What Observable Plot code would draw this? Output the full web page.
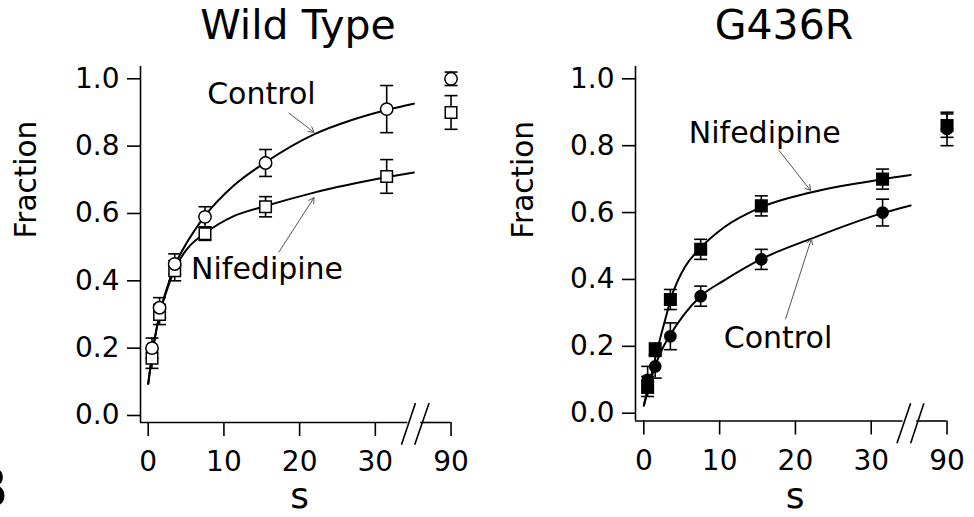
<!DOCTYPE html>
<html><head><meta charset="utf-8">
<script src="https://cdn.jsdelivr.net/npm/d3@7"></script>
<script src="https://cdn.jsdelivr.net/npm/@observablehq/plot@0.6"></script>
<style>
body{margin:0;background:#fff;font-family:"DejaVu Sans",sans-serif;}
#wrap{display:flex;width:974px;height:517px;overflow:hidden;}
.panel{width:487px;flex:none;}
.title{height:50px;line-height:50px;font-size:41px;text-align:center;color:#000;white-space:nowrap;box-sizing:border-box;}
svg{display:block;overflow:visible;}
</style></head><body><div id="wrap"></div>
<script>
// ---- data ----
const times = [0.5, 1.5, 3.5, 7.5, 15.5, 31.5, 90];
const xTickValues = [0, 10, 20, 30, 90];
const yTickValues = [0, 0.2, 0.4, 0.6, 0.8, 1.0];
const panelTitles = ["Wild Type", "G436R"];

const wtControl    = [0.20, 0.32, 0.45, 0.59, 0.75, 0.91, 1.00];
const wtControlErr = [0.03, 0.03, 0.03, 0.03, 0.04, 0.07, 0.02];
const wtNif        = [0.17, 0.30, 0.43, 0.54, 0.62, 0.71, 0.90];
const wtNifErr     = [0.03, 0.03, 0.03, 0.02, 0.03, 0.05, 0.05];

const mutControl    = [0.10, 0.14, 0.23, 0.35, 0.46, 0.60, 0.85];
const mutControlErr = [0.04, 0.035, 0.04, 0.03, 0.03, 0.04, 0.05];
const mutNif        = [0.08, 0.19, 0.34, 0.49, 0.62, 0.70, 0.86];
const mutNifErr     = [0.03, 0.02, 0.03, 0.03, 0.03, 0.03, 0.035];

// fitted curves
const wtCtrlFitT = [0, 0.74, 1.62, 2.51, 3.61, 5.15, 7.5, 11.3, 15.5, 21.9, 26.7, 31.6, 35.1];
const wtCtrlFitF = [0.094, 0.213, 0.312, 0.381, 0.45, 0.515, 0.593, 0.683, 0.752, 0.835, 0.876, 0.908, 0.926];
const wtNifFitT  = [0, 0.74, 1.62, 2.51, 3.61, 5.15, 7.5, 11.3, 15.5, 21.9, 31.6, 35.1];
const wtNifFitF  = [0.094, 0.213, 0.31, 0.375, 0.44, 0.495, 0.541, 0.592, 0.622, 0.662, 0.708, 0.722];
const mutNifFitT = [0, 1, 2, 3, 3.52, 4.5, 5.5, 7.6, 10.6, 15.6, 22, 31.6, 35.2];
const mutNifFitF = [0.023, 0.115, 0.21, 0.295, 0.34, 0.397, 0.44, 0.497, 0.556, 0.617, 0.66, 0.70, 0.712];
const mutCtrlFitT = [0, 0.8, 1.6, 2.5, 3.5, 5.3, 7.6, 10.6, 15.6, 22.1, 31.6, 35.2];
const mutCtrlFitF = [0.023, 0.09, 0.148, 0.195, 0.235, 0.295, 0.352, 0.397, 0.462, 0.522, 0.599, 0.621];

// annotation labels and arrows
const wtLabels  = [{text: "Control", t: 14.95, f: 0.953}, {text: "Nifedipine", t: 15.7, f: 0.434}];
const wtArrows  = [{t1: 18.6, f1: 0.898, t2: 21.9, f2: 0.841}, {t1: 17.25, f1: 0.485, t2: 21.9, f2: 0.647}];
const mutLabels = [{text: "Nifedipine", t: 15.96, f: 0.836}, {text: "Control", t: 17.7, f: 0.224}];
const mutArrows = [{t1: 17.8, f1: 0.787, t2: 22.0, f2: 0.666}, {t1: 18.7, f1: 0.282, t2: 22.1, f2: 0.521}];

// axis break: 90 s is drawn at position 40
const BREAK_VALUE = 90, BREAK_POS = 40;
const xPos = t => t >= BREAK_VALUE ? BREAK_POS + (t - BREAK_VALUE) : t;
const xTickPos = xTickValues.map(xPos);

const rows = (vals, errs, series) => times.map((t, i) => ({t, f: vals[i], err: errs[i], series}));
const fit = (T, F) => T.map((t, i) => ({t, f: F[i]}));

const capSymbol = {draw(ctx, size) { const w = Math.sqrt(size / Math.PI); ctx.moveTo(-w, 0); ctx.lineTo(w, 0); }};

function panel(cfg) {
  const [xmin, xmax] = cfg.xDomain, [ymin, ymax] = cfg.yDomain;
  const all = cfg.ctrl.concat(cfg.nif);
  const X = d => xPos(d.t);
  return Plot.plot({
    width: 487, height: 467,
    marginLeft: cfg.marginLeft, marginRight: cfg.marginRight, marginTop: 16, marginBottom: cfg.marginBottom,
    style: {fontFamily: "DejaVu Sans", fontSize: "28px", color: "#000", background: "transparent", overflow: "visible"},
    x: {domain: cfg.xDomain, axis: null},
    y: {domain: cfg.yDomain, axis: null},
    marks: [
      Plot.ruleX([xmin], {y1: ymin, y2: ymax, strokeWidth: 1.6}),
      Plot.ruleY(cfg.axisSegments, {y: ymin, x1: d => d[0], x2: d => d[1], strokeWidth: 1.6}),
      Plot.link(cfg.slashes, {x1: d => d[0], y1: d => d[1], x2: d => d[2], y2: d => d[3], strokeWidth: 1.6}),
      Plot.axisY({ticks: yTickValues, tickFormat: ".1f", tickSize: 13, tickPadding: 8, strokeWidth: 1.6, label: null, fontSize: 28}),
      Plot.axisX({ticks: xTickPos, tickFormat: d => String(xTickValues[xTickPos.indexOf(d)]), tickSize: 14, tickPadding: 15, strokeWidth: 1.6, label: null, fontSize: 28}),
      Plot.text(["Fraction"], {frameAnchor: "left", rotate: -90, dx: cfg.fracDx, dy: cfg.fracDy, fontSize: 29.5, lineAnchor: "middle"}),
      Plot.text(["s"], {frameAnchor: "bottom", dy: cfg.sDy, fontSize: 36, lineAnchor: "middle"}),
      ...(cfg.letter ? [Plot.text([cfg.letter], {frameAnchor: "bottom-left", dx: -132, dy: 67, textAnchor: "end", lineAnchor: "middle", fontSize: 56, fontWeight: "bold"})] : []),
      Plot.line(cfg.fitCtrl, {x: X, y: "f", curve: "monotone-x", strokeWidth: 2}),
      Plot.line(cfg.fitNif, {x: X, y: "f", curve: "monotone-x", strokeWidth: 2}),
      Plot.arrow(cfg.arrows, {x1: "t1", y1: "f1", x2: "t2", y2: "f2", stroke: "#555", strokeWidth: 1, headLength: 9}),
      Plot.text(cfg.labels, {x: "t", y: "f", text: "text", fontSize: 30, lineAnchor: "middle"}),
      Plot.ruleX(all, {x: X, y1: d => d.f - d.err, y2: d => d.f + d.err, strokeWidth: 1.6}),
      Plot.dot(all, {x: X, y: d => d.f + d.err, symbol: capSymbol, r: 6.5, stroke: "#000", strokeWidth: 1.6}),
      Plot.dot(all, {x: X, y: d => d.f - d.err, symbol: capSymbol, r: 6.5, stroke: "#000", strokeWidth: 1.6}),
      Plot.dot(cfg.nif, {x: X, y: "f", symbol: "square", r: 6.5, fill: cfg.filled ? "#000" : "#fff", stroke: "#000", strokeWidth: 1.5}),
      Plot.dot(cfg.ctrl, {x: X, y: "f", symbol: "circle", r: cfg.filled ? 5.6 : 6.2, fill: cfg.filled ? "#000" : "#fff", stroke: "#000", strokeWidth: 1.5})
    ]
  });
}

const configs = [
  {
    title: panelTitles[0], titlePad: 109, letter: "B", filled: false,
    marginLeft: 140, marginRight: 28.9, marginBottom: 95,
    xDomain: [-1.02, 41], yDomain: [-0.0208, 1.0365],
    axisSegments: [[-1.02, 34.3], [36.0, 40]],
    slashes: [[33.45, -0.087, 35.3, 0.037], [35.2, -0.087, 37.1, 0.037]],
    fracDx: -114.4, fracDy: -6, sDy: 74,
    ctrl: rows(wtControl, wtControlErr, "Control"), nif: rows(wtNif, wtNifErr, "Nifedipine"),
    fitCtrl: fit(wtCtrlFitT, wtCtrlFitF), fitNif: fit(wtNifFitT, wtNifFitF),
    labels: wtLabels, arrows: wtArrows
  },
  {
    title: panelTitles[1], titlePad: 107, letter: null, filled: true,
    marginLeft: 148, marginRight: 19.9, marginBottom: 96.5,
    xDomain: [-1.1, 41], yDomain: [-0.0233, 1.0368],
    axisSegments: [[-1.1, 34.2], [36.0, 40]],
    slashes: [[33.4, -0.09, 35.2, 0.03], [35.2, -0.09, 36.95, 0.03]],
    fracDx: -112.4, fracDy: -5, sDy: 75.5,
    ctrl: rows(mutControl, mutControlErr, "Control"), nif: rows(mutNif, mutNifErr, "Nifedipine"),
    fitCtrl: fit(mutCtrlFitT, mutCtrlFitF), fitNif: fit(mutNifFitT, mutNifFitF),
    labels: mutLabels, arrows: mutArrows
  }
];

const wrap = document.getElementById("wrap");
for (const cfg of configs) {
  const p = document.createElement("div");
  p.className = "panel";
  const t = document.createElement("div");
  t.className = "title";
  t.style.paddingLeft = cfg.titlePad + "px";
  t.textContent = cfg.title;
  p.appendChild(t);
  p.appendChild(panel(cfg));
  wrap.appendChild(p);
}
</script></body></html>
